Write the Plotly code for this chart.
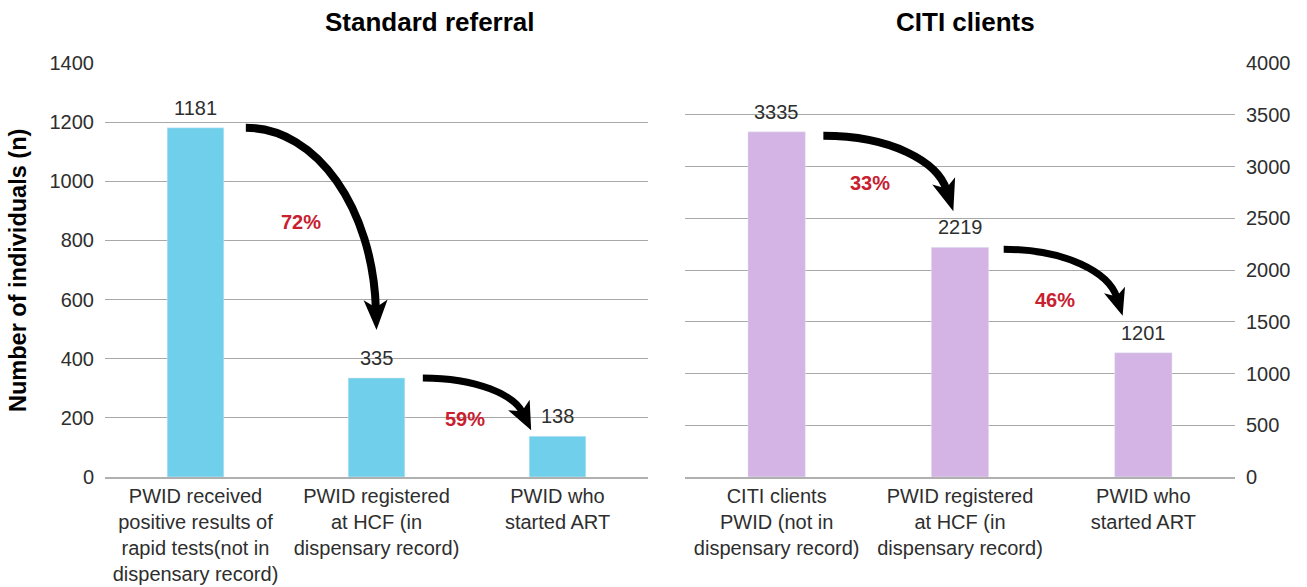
import plotly.graph_objects as go

# ---- data -------------------------------------------------------------
std_categories = [
    "PWID received<br>positive results of<br>rapid tests(not in<br>dispensary record)",
    "PWID registered<br>at HCF (in<br>dispensary record)",
    "PWID who<br>started ART",
]
std_values = [1181, 335, 138]
std_percents = ["72%", "59%"]

citi_categories = [
    "CITI clients<br>PWID (not in<br>dispensary record)",
    "PWID registered<br>at HCF (in<br>dispensary record)",
    "PWID who<br>started ART",
]
citi_values = [3335, 2219, 1201]
citi_percents = ["33%", "46%"]

left_ticks = [0, 200, 400, 600, 800, 1000, 1200, 1400]
right_ticks = [0, 500, 1000, 1500, 2000, 2500, 3000, 3500, 4000]

# ---- styling ----------------------------------------------------------
W, H = 1307, 587
FONT = "Liberation Sans"
TXT = "#2e2e2e"
BLUE = "#70CFEA"
LILAC = "#D4B4E4"
RED = "#C8202F"
GRID = "#A8A8A8"
BAR_W = 0.313

M_L, M_R, M_T, M_B = 105, 72, 63, 110
PLOT_W = W - M_L - M_R
PLOT_H = H - M_T - M_B
GAP = 37  # px between the two panels
left_px = (M_L, M_L + 543)
right_px = (M_L + 543 + GAP, W - M_R)
dom_left = [0, 543 / PLOT_W]
dom_right = [(543 + GAP) / PLOT_W, 1]

panels = {
    "L": dict(px=left_px, ymax=1400, xref="x", yref="y"),
    "R": dict(px=right_px, ymax=4000, xref="x2", yref="y2"),
}


def to_px(p, x, v):
    a, b = panels[p]["px"]
    return a + (x + 0.5) / 3 * (b - a), H - M_B - v / panels[p]["ymax"] * PLOT_H


def to_data(p, px, py):
    a, b = panels[p]["px"]
    return (px - a) / (b - a) * 3 - 0.5, (H - M_B - py) / PLOT_H * panels[p]["ymax"]


fig = go.Figure()

fig.add_trace(go.Bar(x=[0, 1, 2], y=std_values, width=BAR_W, marker_color=BLUE,
                     xaxis="x", yaxis="y", hoverinfo="skip", showlegend=False))
fig.add_trace(go.Bar(x=[0, 1, 2], y=citi_values, width=BAR_W, marker_color=LILAC,
                     xaxis="x2", yaxis="y2", hoverinfo="skip", showlegend=False))

annotations = []
shapes = []

# value labels above bars
for p, vals in (("L", std_values), ("R", citi_values)):
    for i, v in enumerate(vals):
        annotations.append(dict(x=i, y=v, xref=panels[p]["xref"], yref=panels[p]["yref"],
                                text=str(v), showarrow=False, yanchor="bottom", yshift=7,
                                font=dict(family=FONT, size=20, color=TXT)))


def arrow(p, i, start_off, tip_mode, tip_off, direction, width, L=30, hw=12):
    """Curved arrow from the top of bar i towards bar i+1 (offsets in px)."""
    vals = std_values if p == "L" else citi_values
    bx0, by0 = to_px(p, i + BAR_W / 2, vals[i])
    sx, sy = bx0 + start_off[0], by0 + start_off[1]
    if tip_mode == "center":
        tx, ty = to_px(p, i + 1, vals[i + 1])
    else:
        tx, ty = to_px(p, i + 1 - BAR_W / 2, vals[i + 1])
    tx, ty = tx + tip_off[0], ty + tip_off[1]
    dx, dy = direction
    n = (dx * dx + dy * dy) ** 0.5
    dx, dy = dx / n, dy / n
    ex, ey = tx - dx * L * 0.7, ty - dy * L * 0.7
    k = 0.55
    c1 = (sx + k * abs(ex - sx), sy)
    c2 = (ex - dx * k * abs(ey - sy), ey - dy * k * abs(ey - sy))
    pts = [to_data(p, *q) for q in [(sx, sy), c1, c2, (ex, ey)]]
    path = "M {},{} C {},{} {},{} {},{}".format(*[c for pt in pts for c in pt])
    shapes.append(dict(type="path", path=path, xref=panels[p]["xref"], yref=panels[p]["yref"],
                       line=dict(color="black", width=width), layer="above"))
    # arrow head with a notch at the back
    bx, by = tx - dx * L, ty - dy * L
    nx, ny = -dy, dx
    head = [(tx, ty), (bx + nx * hw, by + ny * hw), (tx - dx * L * 0.75, ty - dy * L * 0.75),
            (bx - nx * hw, by - ny * hw)]
    hp = [to_data(p, *q) for q in head]
    hpath = "M {},{} L {},{} L {},{} L {},{} Z".format(*[c for pt in hp for c in pt])
    shapes.append(dict(type="path", path=hpath, xref=panels[p]["xref"], yref=panels[p]["yref"],
                       fillcolor="black", line=dict(color="black", width=0), layer="above"))


arrow("L", 0, (22, 0), "center", (0, -48), (0.03, 1), 8)
arrow("L", 1, (18, 0), "left", (2, -6), (0.44, 0.9), 7, L=28)
arrow("R", 0, (18, 4), "left", (22, -36), (0.3, 0.95), 8, L=32)
arrow("R", 1, (15, 2), "left", (8, -37), (0.3, 0.95), 7, L=27, hw=11)

# percentage labels
pct_pos = {"L": [(0.583, 862), (1.489, 197)], "R": [(0.509, 2842), (1.518, 1713)]}
for p, pcts in (("L", std_percents), ("R", citi_percents)):
    for (x, y), t in zip(pct_pos[p], pcts):
        annotations.append(dict(x=x, y=y, xref=panels[p]["xref"], yref=panels[p]["yref"],
                                text="<b>%s</b>" % t, showarrow=False,
                                font=dict(family=FONT, size=20, color=RED)))

# panel titles
annotations.append(dict(x=(430 - M_L) / PLOT_W, y=(H - M_B - 22) / PLOT_H, xref="paper", yref="paper",
                        xanchor="center", yanchor="middle",
                        text="<b>Standard referral</b>", showarrow=False,
                        font=dict(family=FONT, size=26, color="black")))
annotations.append(dict(x=(965 - M_L) / PLOT_W, y=(H - M_B - 22) / PLOT_H, xref="paper", yref="paper",
                        xanchor="center", yanchor="middle",
                        text="<b>CITI clients</b>", showarrow=False,
                        font=dict(family=FONT, size=26, color="black")))
# y axis title
annotations.append(dict(x=(18 - M_L) / PLOT_W, y=(H - M_B - 271) / PLOT_H, xref="paper", yref="paper",
                        xanchor="center", yanchor="middle",
                        text="<b>Number of individuals (n)</b>", showarrow=False, textangle=-90,
                        font=dict(family=FONT, size=23.5, color="black")))

axis_font = dict(family=FONT, size=20, color=TXT)
fig.update_layout(
    width=W, height=H,
    margin=dict(l=M_L, r=M_R, t=M_T, b=M_B, autoexpand=False),
    paper_bgcolor="white", plot_bgcolor="white",
    showlegend=False,
    xaxis=dict(domain=dom_left, range=[-0.5, 2.5], tickvals=[0, 1, 2], ticktext=std_categories,
               tickfont=axis_font, showgrid=False, zeroline=False, showline=True,
               linecolor="#B0B0B0", linewidth=2, ticks="", fixedrange=True, automargin=False),
    yaxis=dict(range=[0, 1400], tickvals=left_ticks, tickfont=axis_font, showgrid=True,
               gridcolor=GRID, gridwidth=1, zeroline=False, showline=False, ticks="",
               ticklabelstandoff=10, fixedrange=True, automargin=False),
    xaxis2=dict(domain=dom_right, range=[-0.5, 2.5], tickvals=[0, 1, 2], ticktext=citi_categories,
                tickfont=axis_font, showgrid=False, zeroline=False, showline=True,
                linecolor="#B0B0B0", linewidth=2, ticks="", anchor="y2", fixedrange=True,
                automargin=False),
    yaxis2=dict(range=[0, 4000], tickvals=right_ticks, tickfont=axis_font, showgrid=True,
                gridcolor=GRID, gridwidth=1, zeroline=False, showline=False, ticks="",
                side="right", anchor="x2", ticklabelstandoff=10, fixedrange=True,
                automargin=False),
    annotations=annotations,
    shapes=shapes,
)

fig.write_html("out.html", config={"displayModeBar": False})
